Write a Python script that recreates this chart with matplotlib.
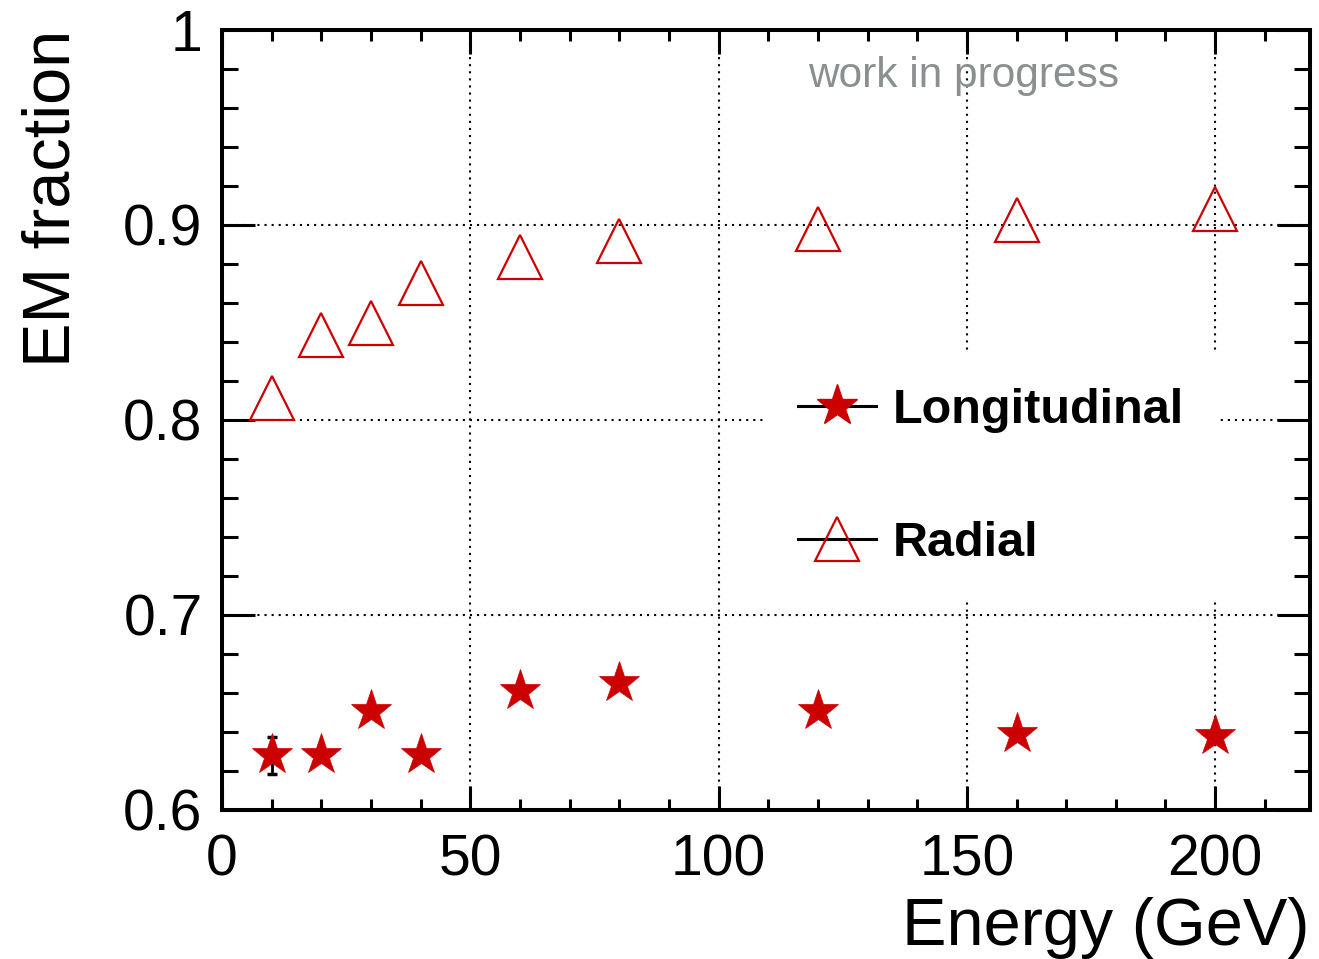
import matplotlib
matplotlib.use("Agg")
import matplotlib.pyplot as plt
from matplotlib.lines import Line2D
from matplotlib.ticker import MultipleLocator, FuncFormatter

# ---- data ----
energy = [10, 20, 30, 40, 60, 80, 120, 160, 200]
longitudinal = [0.628, 0.628, 0.651, 0.628, 0.661, 0.665, 0.651, 0.639, 0.638]
longitudinal_err = [0.0095, 0, 0, 0, 0, 0, 0, 0, 0]
radial = [0.8115, 0.8434, 0.8496, 0.8702, 0.8837, 0.8916, 0.8979, 0.9028, 0.9083]
series_labels = ["Longitudinal", "Radial"]
x_label = "Energy (GeV)"
y_label = "EM fraction"
note = "work in progress"

RED = "#cc0000"
plt.rcParams["font.family"] = ["Liberation Sans", "DejaVu Sans"]

fig = plt.figure(figsize=(13.19, 9.59), dpi=100)
ax = fig.add_axes([222 / 1319, 1 - 810 / 959, 1088 / 1319, 780 / 959])

ax.set_xlim(0, 219.1)
ax.set_ylim(0.6, 1.0)

# grid
ax.grid(True, which="major", color="black", linestyle=(0, (1, 2.4)), linewidth=1.5)
ax.set_axisbelow(True)

# data
ax.errorbar(energy, longitudinal, yerr=longitudinal_err, fmt="none", ecolor="black",
            elinewidth=2, capsize=3.5, capthick=2.5, zorder=3)
ax.plot(energy, longitudinal, linestyle="none", marker="*", ms=31,
        mfc=RED, mec=RED, mew=0.5, zorder=4)
ax.plot(energy, radial, linestyle="none", marker="^", ms=31,
        mfc="none", mec=RED, mew=1.6, zorder=4)

# ticks
ax.xaxis.set_major_locator(MultipleLocator(50))
ax.xaxis.set_minor_locator(MultipleLocator(10))
ax.yaxis.set_major_locator(MultipleLocator(0.1))
ax.yaxis.set_minor_locator(MultipleLocator(0.02))
ax.yaxis.set_major_formatter(FuncFormatter(lambda v, p: "%g" % round(v, 3)))
ax.tick_params(axis="both", which="both", direction="in", top=True, right=True,
               width=2.2, color="black")
ax.tick_params(axis="x", which="major", length=17, pad=17, labelsize=41)
ax.tick_params(axis="x", which="minor", length=8)
ax.tick_params(axis="y", which="major", length=24, pad=14, labelsize=41)
ax.tick_params(axis="y", which="minor", length=11.5)
for s in ax.spines.values():
    s.set_linewidth(2.9)

# labels
ax.set_xlabel(x_label, fontsize=48, loc="right")
ax.xaxis.set_label_coords(1.0, -0.111)
ax.xaxis.label.set_va("top")
ax.set_ylabel(y_label, fontsize=48, loc="top")
ax.yaxis.set_label_coords(-0.127, 1.0)

ax.text(0.5386, 0.9273, note, transform=ax.transAxes, fontsize=30.5,
        color="#8a8f8f", ha="left", va="baseline")

# legend
h1 = Line2D([], [], color="black", lw=2.2, marker="*", ms=31, mfc=RED, mec=RED)
h2 = Line2D([], [], color="black", lw=2.2, marker="^", ms=31, mfc="none", mec=RED, mew=1.6)
leg = ax.legend([h1, h2], series_labels, loc="center", bbox_to_anchor=(0.707, 0.427),
                numpoints=1, prop={"weight": "bold", "size": 35},
                handlelength=1.6, handletextpad=0.35, labelspacing=1.8,
                borderpad=0.7, frameon=True, fancybox=False, framealpha=1,
                facecolor="white", edgecolor="none")
leg.get_frame().set_linewidth(0)

fig.savefig("out.png", dpi=100)
